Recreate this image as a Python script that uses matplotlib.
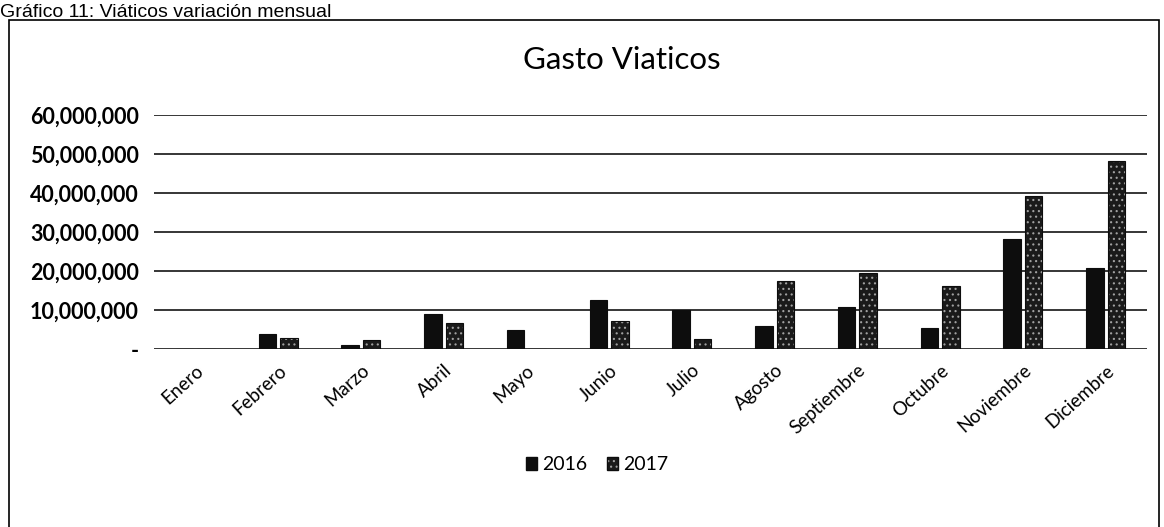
import matplotlib
matplotlib.use("Agg")
import matplotlib.pyplot as plt
import matplotlib.patches as mpatches
import numpy as np

months = ["Enero", "Febrero", "Marzo", "Abril", "Mayo", "Junio", "Julio",
          "Agosto", "Septiembre", "Octubre", "Noviembre", "Diciembre"]
gasto_2016 = [0, 3.9e6, 1.0e6, 9.0e6, 4.9e6, 12.5e6, 9.9e6,
              5.9e6, 10.8e6, 5.3e6, 28.2e6, 20.8e6]
gasto_2017 = [0, 2.9e6, 2.2e6, 6.6e6, 0, 7.2e6, 2.5e6,
              17.5e6, 19.4e6, 16.2e6, 39.3e6, 48.1e6]
series_names = ["2016", "2017"]
y_ticks = [0, 10e6, 20e6, 30e6, 40e6, 50e6, 60e6]
y_tick_labels = ["-", "10,000,000", "20,000,000", "30,000,000",
                 "40,000,000", "50,000,000", "60,000,000"]

W, H = 1164, 527
fig = plt.figure(figsize=(W / 100, H / 100), dpi=100)
fig.patch.set_facecolor("white")

font_main = ["Lato", "DejaVu Sans"]
hatch_col = matplotlib.colors.to_rgba("#a0a0a0")
plt.rcParams["hatch.linewidth"] = 0.8

ax = fig.add_axes([154 / W, 1 - 349 / H, (1147 - 154) / W, (349 - 115) / H])
x = np.arange(len(months))
bw = 0.21
off = 0.13
ax.bar(x - off, gasto_2016, width=bw, color="#0d0d0d", edgecolor="#0d0d0d",
       linewidth=0.8, zorder=3, label=series_names[0])
b2 = ax.bar(x + off, gasto_2017, width=bw, color="#1a1a1a", edgecolor="#0d0d0d",
            linewidth=0.8, zorder=3, label=series_names[1], hatch="...")
for p in b2:
    p._hatch_color = hatch_col

ax.set_xlim(-0.5, len(months) - 0.5)
ax.set_ylim(0, 60e6)
ax.set_yticks(y_ticks)
ax.set_yticklabels(y_tick_labels, fontsize=15.5, family=font_main, fontweight="bold")
ax.yaxis.grid(True, color="black", linewidth=1.1, zorder=0)
ax.set_axisbelow(True)
for s in ax.spines.values():
    s.set_visible(False)
ax.tick_params(axis="y", length=0, pad=11)
ax.tick_params(axis="x", length=0, pad=9)
ax.set_xticks(x)
ax.set_xticklabels(months, rotation=42, ha="right", rotation_mode="anchor",
                   fontsize=13.5, family=font_main)

fig.text(622 / W, 1 - 60 / H, "Gasto Viaticos", ha="center", va="center",
         fontsize=22.5, family=font_main)

h1 = mpatches.Patch(facecolor="#0d0d0d", edgecolor="#0d0d0d")
h2 = mpatches.Patch(facecolor="#1a1a1a", edgecolor="#0d0d0d", hatch="...")
h2._hatch_color = hatch_col
fig.legend([h1, h2], series_names, loc="center", bbox_to_anchor=(597 / W, 1 - 465 / H),
           ncol=2, frameon=False, prop={"family": font_main, "size": 14},
           handlelength=0.6, handleheight=0.6, handletextpad=0.25, columnspacing=1.0)

fig.text(0, 1 - 17 / H, "Gráfico 11: Viáticos variación mensual", ha="left",
         va="baseline", fontsize=14, family=["Liberation Sans", "DejaVu Sans"])

border = mpatches.Rectangle((9 / W, -0.05), (1159 - 9) / W, 1.05 - 20 / H,
                            transform=fig.transFigure, fill=False,
                            edgecolor="black", linewidth=1.2, clip_on=False)
fig.patches.append(border)

fig.savefig("out.png", dpi=100, facecolor="white")
